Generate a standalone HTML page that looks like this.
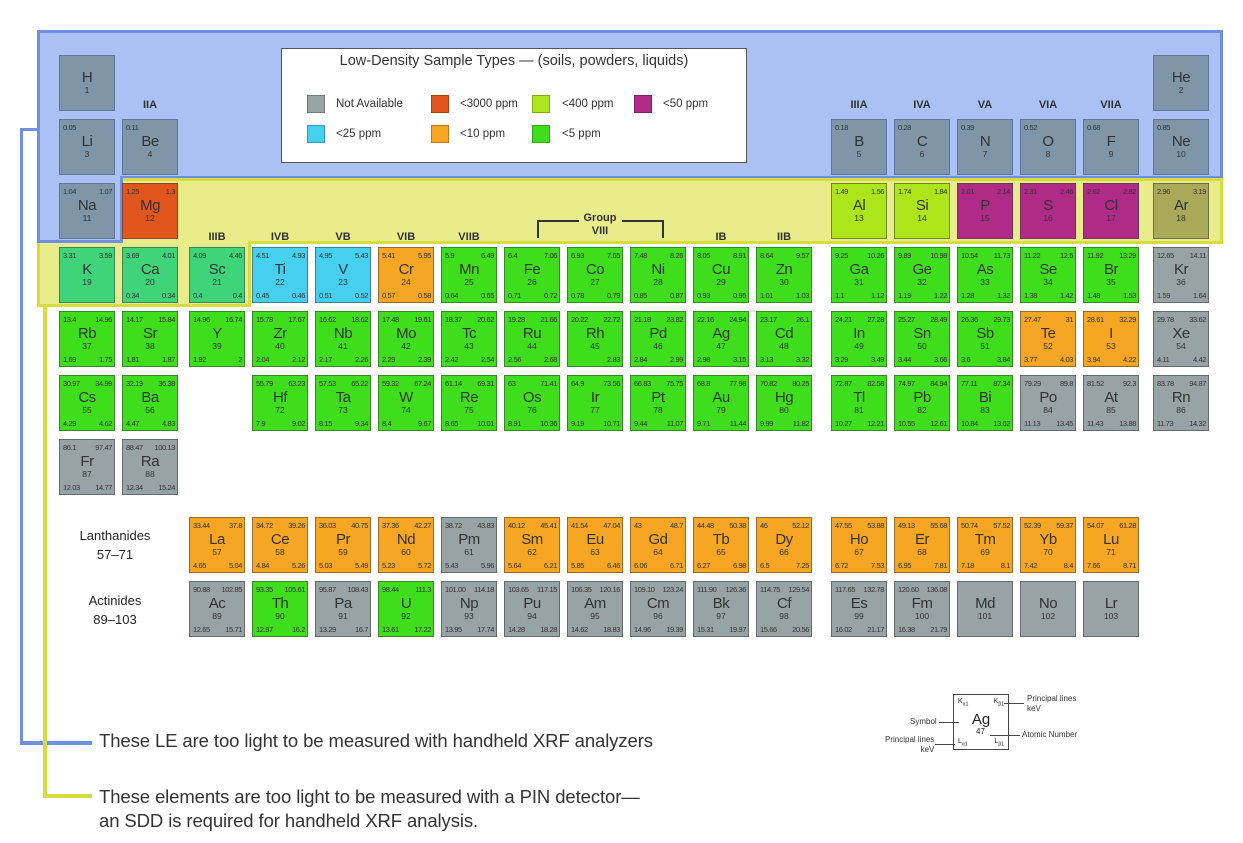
<!DOCTYPE html>
<html><head><meta charset="utf-8"><style>
*{margin:0;padding:0;box-sizing:border-box}
body{width:1243px;height:843px;background:#fff;position:relative;overflow:hidden;font-family:"Liberation Sans Narrow","Liberation Sans",sans-serif;color:#222}
.abs{position:absolute}
.c{position:absolute;width:56px;height:56px;border:1px solid rgba(60,60,60,.55);font-style:normal;text-align:center;color:#333}
.c i,.c b,.c em,.c q{position:absolute;font-size:7.5px;letter-spacing:-0.4px;font-style:normal;font-weight:normal;line-height:9px;color:#333}
.c q::before,.c q::after{content:none}
.c i{left:3px;top:3px}.c b{right:2px;top:3px}
.c em{left:3px;bottom:2px}.c q{right:2px;bottom:2px}
.c s{position:absolute;left:0;right:0;top:14px;font-size:15px;line-height:16px;text-decoration:none;letter-spacing:-0.5px}
.c u{position:absolute;left:0;right:0;top:30px;font-size:8.5px;line-height:9px;text-decoration:none}
.bg{background:#7f95a8;border-color:#5d76a2}
.g{background:#98a3a6}
.gr{background:#3fde1c}
.tg{background:#3fd47a}
.cy{background:#45d0f0}
.or{background:#f6a623}
.rd{background:#e0561c}
.lm{background:#ace519}
.pu{background:#b02a88}
.ol{background:#a9a95a}
.gl{position:absolute;font-size:11px;font-weight:bold;color:#333;width:56px;text-align:center}
.sw{position:absolute;width:18px;height:18px;border:1px solid rgba(0,0,0,.25)}
.lt{position:absolute;font-size:11.5px;color:#333}
</style></head><body>
<div class="abs" style="left:38px;top:31px;width:1184px;height:149px;background:#abc0f4"></div>
<div class="abs" style="left:38px;top:178px;width:84px;height:65px;background:#abc0f4"></div>
<div class="abs" style="left:120px;top:178px;width:1102px;height:65px;background:#e9ec8a"></div>
<div class="abs" style="left:38px;top:242px;width:212px;height:64px;background:#e9ec8a"></div>
<div class="abs" style="left:37px;top:30px;width:1186px;height:3px;background:#6e8fe2"></div>
<div class="abs" style="left:37px;top:30px;width:3px;height:213px;background:#6e8fe2"></div>
<div class="abs" style="left:1220px;top:30px;width:3px;height:150px;background:#6e8fe2"></div>
<div class="abs" style="left:120px;top:176px;width:1103px;height:3px;background:#6e8fe2"></div>
<div class="abs" style="left:120px;top:176px;width:3px;height:66px;background:#6e8fe2"></div>
<div class="abs" style="left:37px;top:240px;width:86px;height:3px;background:#6e8fe2"></div>
<div class="abs" style="left:123px;top:178px;width:1100px;height:3px;background:#d6dc3c"></div>
<div class="abs" style="left:1220px;top:178px;width:3px;height:66px;background:#d6dc3c"></div>
<div class="abs" style="left:248px;top:241px;width:975px;height:3px;background:#d6dc3c"></div>
<div class="abs" style="left:37px;top:243px;width:3px;height:64px;background:#d6dc3c"></div>
<div class="abs" style="left:37px;top:304px;width:214px;height:3px;background:#d6dc3c"></div>
<div class="abs" style="left:248px;top:241px;width:3px;height:66px;background:#d6dc3c"></div>
<div class="abs" style="left:20px;top:128px;width:19px;height:3px;background:#6e8fe2"></div>
<div class="abs" style="left:20px;top:128px;width:3px;height:617px;background:#6e8fe2"></div>
<div class="abs" style="left:20px;top:741px;width:72px;height:4px;background:#6e8fe2"></div>
<div class="abs" style="left:43px;top:305px;width:4px;height:493px;background:#d6dc3c"></div>
<div class="abs" style="left:43px;top:794px;width:49px;height:4px;background:#d6dc3c"></div>
<div class="abs" style="left:99px;top:730px;font-size:18.5px;color:#333;font-family:'Liberation Sans',sans-serif;letter-spacing:-0.1px">These LE are too light to be measured with handheld XRF analyzers</div>
<div class="abs" style="left:99px;top:785px;font-size:18.5px;line-height:24px;color:#333;font-family:'Liberation Sans',sans-serif;letter-spacing:-0.1px">These elements are too light to be measured with a PIN detector—<br>an SDD is required for handheld XRF analysis.</div>

<div class="abs" style="left:281px;top:48px;width:466px;height:115px;background:#fff;border:1px solid #555"></div>
<div class="abs" style="left:281px;top:53px;width:410px;text-align:center;font-size:14.5px;font-family:'Liberation Sans',sans-serif;color:#333;margin-left:28px">Low-Density Sample Types — (soils, powders, liquids)</div>
<div class="sw" style="left:307px;top:95px;background:#98a3a6"></div><div class="lt" style="left:336px;top:98px">Not Available</div>
<div class="sw" style="left:431px;top:95px;background:#e0561c"></div><div class="lt" style="left:460px;top:98px">&lt;3000 ppm</div>
<div class="sw" style="left:532px;top:95px;background:#ace519"></div><div class="lt" style="left:562px;top:98px">&lt;400 ppm</div>
<div class="sw" style="left:634px;top:95px;background:#b02a88"></div><div class="lt" style="left:663px;top:98px">&lt;50 ppm</div>
<div class="sw" style="left:307px;top:125px;background:#45d0f0"></div><div class="lt" style="left:336px;top:128px">&lt;25 ppm</div>
<div class="sw" style="left:431px;top:125px;background:#f6a623"></div><div class="lt" style="left:460px;top:128px">&lt;10 ppm</div>
<div class="sw" style="left:532px;top:125px;background:#3fde1c"></div><div class="lt" style="left:562px;top:128px">&lt;5 ppm</div>

<div class="gl" style="left:122px;top:99px">IIA</div>
<div class="gl" style="left:189px;top:231px">IIIB</div>
<div class="gl" style="left:252px;top:231px">IVB</div>
<div class="gl" style="left:315px;top:231px">VB</div>
<div class="gl" style="left:378px;top:231px">VIB</div>
<div class="gl" style="left:441px;top:231px">VIIB</div>
<div class="gl" style="left:693px;top:231px">IB</div>
<div class="gl" style="left:756px;top:231px">IIB</div>
<div class="gl" style="left:831px;top:99px">IIIA</div>
<div class="gl" style="left:894px;top:99px">IVA</div>
<div class="gl" style="left:957px;top:99px">VA</div>
<div class="gl" style="left:1020px;top:99px">VIA</div>
<div class="gl" style="left:1083px;top:99px">VIIA</div>
<div class="abs" style="left:537px;top:220px;width:42px;height:18px;border-left:2px solid #333;border-top:2px solid #333"></div>
<div class="abs" style="left:622px;top:220px;width:42px;height:18px;border-right:2px solid #333;border-top:2px solid #333"></div>
<div class="abs" style="left:570px;top:212px;width:60px;text-align:center;font-size:11px;font-weight:bold;line-height:13px;color:#333">Group<br>VIII</div>

<div class="abs" style="left:60px;top:526px;width:110px;text-align:center;font-size:13px;line-height:19px;font-family:'Liberation Sans',sans-serif">Lanthanides<br>57–71</div>
<div class="abs" style="left:60px;top:591px;width:110px;text-align:center;font-size:13px;line-height:19px;font-family:'Liberation Sans',sans-serif">Actinides<br>89–103</div>

<div class="c bg" style="left:59px;top:55px"><s>H</s><u>1</u></div>
<div class="c bg" style="left:1153px;top:55px"><s>He</s><u>2</u></div>
<div class="c bg" style="left:59px;top:119px"><i>0.05</i><s>Li</s><u>3</u></div>
<div class="c bg" style="left:122px;top:119px"><i>0.11</i><s>Be</s><u>4</u></div>
<div class="c bg" style="left:831px;top:119px"><i>0.18</i><s>B</s><u>5</u></div>
<div class="c bg" style="left:894px;top:119px"><i>0.28</i><s>C</s><u>6</u></div>
<div class="c bg" style="left:957px;top:119px"><i>0.39</i><s>N</s><u>7</u></div>
<div class="c bg" style="left:1020px;top:119px"><i>0.52</i><s>O</s><u>8</u></div>
<div class="c bg" style="left:1083px;top:119px"><i>0.68</i><s>F</s><u>9</u></div>
<div class="c bg" style="left:1153px;top:119px"><i>0.85</i><s>Ne</s><u>10</u></div>
<div class="c bg" style="left:59px;top:183px"><i>1.04</i><b>1.07</b><s>Na</s><u>11</u></div>
<div class="c rd" style="left:122px;top:183px"><i>1.25</i><b>1.3</b><s>Mg</s><u>12</u></div>
<div class="c lm" style="left:831px;top:183px"><i>1.49</i><b>1.56</b><s>Al</s><u>13</u></div>
<div class="c lm" style="left:894px;top:183px"><i>1.74</i><b>1.84</b><s>Si</s><u>14</u></div>
<div class="c pu" style="left:957px;top:183px"><i>2.01</i><b>2.14</b><s>P</s><u>15</u></div>
<div class="c pu" style="left:1020px;top:183px"><i>2.31</i><b>2.46</b><s>S</s><u>16</u></div>
<div class="c pu" style="left:1083px;top:183px"><i>2.62</i><b>2.82</b><s>Cl</s><u>17</u></div>
<div class="c ol" style="left:1153px;top:183px"><i>2.96</i><b>3.19</b><s>Ar</s><u>18</u></div>

<div class="c tg" style="left:59px;top:247px"><i>3.31</i><b>3.59</b><s>K</s><u>19</u></div>
<div class="c tg" style="left:122px;top:247px"><i>3.69</i><b>4.01</b><s>Ca</s><u>20</u><em>0.34</em><q>0.34</q></div>
<div class="c tg" style="left:189px;top:247px"><i>4.09</i><b>4.46</b><s>Sc</s><u>21</u><em>0.4</em><q>0.4</q></div>
<div class="c cy" style="left:252px;top:247px"><i>4.51</i><b>4.93</b><s>Ti</s><u>22</u><em>0.45</em><q>0.46</q></div>
<div class="c cy" style="left:315px;top:247px"><i>4.95</i><b>5.43</b><s>V</s><u>23</u><em>0.51</em><q>0.52</q></div>
<div class="c or" style="left:378px;top:247px"><i>5.41</i><b>5.95</b><s>Cr</s><u>24</u><em>0.57</em><q>0.58</q></div>
<div class="c gr" style="left:441px;top:247px"><i>5.9</i><b>6.49</b><s>Mn</s><u>25</u><em>0.64</em><q>0.65</q></div>
<div class="c gr" style="left:504px;top:247px"><i>6.4</i><b>7.06</b><s>Fe</s><u>26</u><em>0.71</em><q>0.72</q></div>
<div class="c gr" style="left:567px;top:247px"><i>6.93</i><b>7.65</b><s>Co</s><u>27</u><em>0.78</em><q>0.79</q></div>
<div class="c gr" style="left:630px;top:247px"><i>7.48</i><b>8.26</b><s>Ni</s><u>28</u><em>0.85</em><q>0.87</q></div>
<div class="c gr" style="left:693px;top:247px"><i>8.05</i><b>8.91</b><s>Cu</s><u>29</u><em>0.93</em><q>0.95</q></div>
<div class="c gr" style="left:756px;top:247px"><i>8.64</i><b>9.57</b><s>Zn</s><u>30</u><em>1.01</em><q>1.03</q></div>
<div class="c gr" style="left:831px;top:247px"><i>9.25</i><b>10.26</b><s>Ga</s><u>31</u><em>1.1</em><q>1.12</q></div>
<div class="c gr" style="left:894px;top:247px"><i>9.89</i><b>10.98</b><s>Ge</s><u>32</u><em>1.19</em><q>1.22</q></div>
<div class="c gr" style="left:957px;top:247px"><i>10.54</i><b>11.73</b><s>As</s><u>33</u><em>1.28</em><q>1.32</q></div>
<div class="c gr" style="left:1020px;top:247px"><i>11.22</i><b>12.5</b><s>Se</s><u>34</u><em>1.38</em><q>1.42</q></div>
<div class="c gr" style="left:1083px;top:247px"><i>11.92</i><b>13.29</b><s>Br</s><u>35</u><em>1.48</em><q>1.53</q></div>
<div class="c g" style="left:1153px;top:247px"><i>12.65</i><b>14.11</b><s>Kr</s><u>36</u><em>1.59</em><q>1.64</q></div>

<div class="c gr" style="left:59px;top:311px"><i>13.4</i><b>14.96</b><s>Rb</s><u>37</u><em>1.69</em><q>1.75</q></div>
<div class="c gr" style="left:122px;top:311px"><i>14.17</i><b>15.84</b><s>Sr</s><u>38</u><em>1.81</em><q>1.87</q></div>
<div class="c gr" style="left:189px;top:311px"><i>14.96</i><b>16.74</b><s>Y</s><u>39</u><em>1.92</em><q>2</q></div>
<div class="c gr" style="left:252px;top:311px"><i>15.78</i><b>17.67</b><s>Zr</s><u>40</u><em>2.04</em><q>2.12</q></div>
<div class="c gr" style="left:315px;top:311px"><i>16.62</i><b>18.62</b><s>Nb</s><u>41</u><em>2.17</em><q>2.26</q></div>
<div class="c gr" style="left:378px;top:311px"><i>17.48</i><b>19.61</b><s>Mo</s><u>42</u><em>2.29</em><q>2.39</q></div>
<div class="c gr" style="left:441px;top:311px"><i>18.37</i><b>20.62</b><s>Tc</s><u>43</u><em>2.42</em><q>2.54</q></div>
<div class="c gr" style="left:504px;top:311px"><i>19.28</i><b>21.66</b><s>Ru</s><u>44</u><em>2.56</em><q>2.68</q></div>
<div class="c gr" style="left:567px;top:311px"><i>20.22</i><b>22.72</b><s>Rh</s><u>45</u><q>2.83</q></div>
<div class="c gr" style="left:630px;top:311px"><i>21.18</i><b>23.82</b><s>Pd</s><u>46</u><em>2.84</em><q>2.99</q></div>
<div class="c gr" style="left:693px;top:311px"><i>22.16</i><b>24.94</b><s>Ag</s><u>47</u><em>2.98</em><q>3.15</q></div>
<div class="c gr" style="left:756px;top:311px"><i>23.17</i><b>26.1</b><s>Cd</s><u>48</u><em>3.13</em><q>3.32</q></div>
<div class="c gr" style="left:831px;top:311px"><i>24.21</i><b>27.28</b><s>In</s><u>49</u><em>3.29</em><q>3.49</q></div>
<div class="c gr" style="left:894px;top:311px"><i>25.27</i><b>28.49</b><s>Sn</s><u>50</u><em>3.44</em><q>3.66</q></div>
<div class="c gr" style="left:957px;top:311px"><i>26.36</i><b>29.73</b><s>Sb</s><u>51</u><em>3.6</em><q>3.84</q></div>
<div class="c or" style="left:1020px;top:311px"><i>27.47</i><b>31</b><s>Te</s><u>52</u><em>3.77</em><q>4.03</q></div>
<div class="c or" style="left:1083px;top:311px"><i>28.61</i><b>32.29</b><s>I</s><u>53</u><em>3.94</em><q>4.22</q></div>
<div class="c g" style="left:1153px;top:311px"><i>29.78</i><b>33.62</b><s>Xe</s><u>54</u><em>4.11</em><q>4.42</q></div>

<div class="c gr" style="left:59px;top:375px"><i>30.97</i><b>34.99</b><s>Cs</s><u>55</u><em>4.29</em><q>4.62</q></div>
<div class="c gr" style="left:122px;top:375px"><i>32.19</i><b>36.38</b><s>Ba</s><u>56</u><em>4.47</em><q>4.83</q></div>
<div class="c gr" style="left:252px;top:375px"><i>55.79</i><b>63.23</b><s>Hf</s><u>72</u><em>7.9</em><q>9.02</q></div>
<div class="c gr" style="left:315px;top:375px"><i>57.53</i><b>65.22</b><s>Ta</s><u>73</u><em>8.15</em><q>9.34</q></div>
<div class="c gr" style="left:378px;top:375px"><i>59.32</i><b>67.24</b><s>W</s><u>74</u><em>8.4</em><q>9.67</q></div>
<div class="c gr" style="left:441px;top:375px"><i>61.14</i><b>69.31</b><s>Re</s><u>75</u><em>8.65</em><q>10.01</q></div>
<div class="c gr" style="left:504px;top:375px"><i>63</i><b>71.41</b><s>Os</s><u>76</u><em>8.91</em><q>10.36</q></div>
<div class="c gr" style="left:567px;top:375px"><i>64.9</i><b>73.56</b><s>Ir</s><u>77</u><em>9.19</em><q>10.71</q></div>
<div class="c gr" style="left:630px;top:375px"><i>66.83</i><b>75.75</b><s>Pt</s><u>78</u><em>9.44</em><q>11.07</q></div>
<div class="c gr" style="left:693px;top:375px"><i>68.8</i><b>77.98</b><s>Au</s><u>79</u><em>9.71</em><q>11.44</q></div>
<div class="c gr" style="left:756px;top:375px"><i>70.82</i><b>80.25</b><s>Hg</s><u>80</u><em>9.99</em><q>11.82</q></div>
<div class="c gr" style="left:831px;top:375px"><i>72.87</i><b>82.58</b><s>Tl</s><u>81</u><em>10.27</em><q>12.21</q></div>
<div class="c gr" style="left:894px;top:375px"><i>74.97</i><b>84.94</b><s>Pb</s><u>82</u><em>10.55</em><q>12.61</q></div>
<div class="c gr" style="left:957px;top:375px"><i>77.11</i><b>87.34</b><s>Bi</s><u>83</u><em>10.84</em><q>13.02</q></div>
<div class="c g" style="left:1020px;top:375px"><i>79.29</i><b>89.8</b><s>Po</s><u>84</u><em>11.13</em><q>13.45</q></div>
<div class="c g" style="left:1083px;top:375px"><i>81.52</i><b>92.3</b><s>At</s><u>85</u><em>11.43</em><q>13.88</q></div>
<div class="c g" style="left:1153px;top:375px"><i>83.78</i><b>94.87</b><s>Rn</s><u>86</u><em>11.73</em><q>14.32</q></div>

<div class="c g" style="left:59px;top:439px"><i>86.1</i><b>97.47</b><s>Fr</s><u>87</u><em>12.03</em><q>14.77</q></div>
<div class="c g" style="left:122px;top:439px"><i>88.47</i><b>100.13</b><s>Ra</s><u>88</u><em>12.34</em><q>15.24</q></div>

<div class="c or" style="left:189px;top:517px"><i>33.44</i><b>37.8</b><s>La</s><u>57</u><em>4.65</em><q>5.04</q></div>
<div class="c or" style="left:252px;top:517px"><i>34.72</i><b>39.26</b><s>Ce</s><u>58</u><em>4.84</em><q>5.26</q></div>
<div class="c or" style="left:315px;top:517px"><i>36.03</i><b>40.75</b><s>Pr</s><u>59</u><em>5.03</em><q>5.49</q></div>
<div class="c or" style="left:378px;top:517px"><i>37.36</i><b>42.27</b><s>Nd</s><u>60</u><em>5.23</em><q>5.72</q></div>
<div class="c g" style="left:441px;top:517px"><i>38.72</i><b>43.83</b><s>Pm</s><u>61</u><em>5.43</em><q>5.96</q></div>
<div class="c or" style="left:504px;top:517px"><i>40.12</i><b>45.41</b><s>Sm</s><u>62</u><em>5.64</em><q>6.21</q></div>
<div class="c or" style="left:567px;top:517px"><i>41.54</i><b>47.04</b><s>Eu</s><u>63</u><em>5.85</em><q>6.46</q></div>
<div class="c or" style="left:630px;top:517px"><i>43</i><b>48.7</b><s>Gd</s><u>64</u><em>6.06</em><q>6.71</q></div>
<div class="c or" style="left:693px;top:517px"><i>44.48</i><b>50.38</b><s>Tb</s><u>65</u><em>6.27</em><q>6.98</q></div>
<div class="c or" style="left:756px;top:517px"><i>46</i><b>52.12</b><s>Dy</s><u>66</u><em>6.5</em><q>7.25</q></div>
<div class="c or" style="left:831px;top:517px"><i>47.55</i><b>53.88</b><s>Ho</s><u>67</u><em>6.72</em><q>7.53</q></div>
<div class="c or" style="left:894px;top:517px"><i>49.13</i><b>55.68</b><s>Er</s><u>68</u><em>6.95</em><q>7.81</q></div>
<div class="c or" style="left:957px;top:517px"><i>50.74</i><b>57.52</b><s>Tm</s><u>69</u><em>7.18</em><q>8.1</q></div>
<div class="c or" style="left:1020px;top:517px"><i>52.39</i><b>59.37</b><s>Yb</s><u>70</u><em>7.42</em><q>8.4</q></div>
<div class="c or" style="left:1083px;top:517px"><i>54.07</i><b>61.28</b><s>Lu</s><u>71</u><em>7.66</em><q>8.71</q></div>

<div class="c g" style="left:189px;top:581px"><i>90.88</i><b>102.85</b><s>Ac</s><u>89</u><em>12.65</em><q>15.71</q></div>
<div class="c gr" style="left:252px;top:581px"><i>93.35</i><b>105.61</b><s>Th</s><u>90</u><em>12.97</em><q>16.2</q></div>
<div class="c g" style="left:315px;top:581px"><i>95.87</i><b>108.43</b><s>Pa</s><u>91</u><em>13.29</em><q>16.7</q></div>
<div class="c gr" style="left:378px;top:581px"><i>98.44</i><b>111.3</b><s>U</s><u>92</u><em>13.61</em><q>17.22</q></div>
<div class="c g" style="left:441px;top:581px"><i>101.00</i><b>114.18</b><s>Np</s><u>93</u><em>13.95</em><q>17.74</q></div>
<div class="c g" style="left:504px;top:581px"><i>103.65</i><b>117.15</b><s>Pu</s><u>94</u><em>14.28</em><q>18.28</q></div>
<div class="c g" style="left:567px;top:581px"><i>106.35</i><b>120.16</b><s>Am</s><u>95</u><em>14.62</em><q>18.83</q></div>
<div class="c g" style="left:630px;top:581px"><i>109.10</i><b>123.24</b><s>Cm</s><u>96</u><em>14.96</em><q>19.39</q></div>
<div class="c g" style="left:693px;top:581px"><i>111.90</i><b>126.36</b><s>Bk</s><u>97</u><em>15.31</em><q>19.97</q></div>
<div class="c g" style="left:756px;top:581px"><i>114.75</i><b>129.54</b><s>Cf</s><u>98</u><em>15.66</em><q>20.56</q></div>
<div class="c g" style="left:831px;top:581px"><i>117.65</i><b>132.78</b><s>Es</s><u>99</u><em>16.02</em><q>21.17</q></div>
<div class="c g" style="left:894px;top:581px"><i>120.60</i><b>136.08</b><s>Fm</s><u>100</u><em>16.38</em><q>21.79</q></div>
<div class="c g" style="left:957px;top:581px"><s>Md</s><u>101</u></div>
<div class="c g" style="left:1020px;top:581px"><s>No</s><u>102</u></div>
<div class="c g" style="left:1083px;top:581px"><s>Lr</s><u>103</u></div>

<div class="abs" style="left:953px;top:694px;width:56px;height:56px;border:1px solid #444;background:#fff;font-family:'Liberation Sans',sans-serif">
<span class="abs" style="left:4px;top:3px;font-size:7px">K<sub style="font-size:5px">α1</sub></span>
<span class="abs" style="right:4px;top:3px;font-size:7px">K<sub style="font-size:5px">β1</sub></span>
<span class="abs" style="left:0;right:0;top:16px;text-align:center;font-size:15px">Ag</span>
<span class="abs" style="left:22px;top:32px;font-size:8px">47</span>
<span class="abs" style="left:4px;bottom:2px;font-size:7px">L<sub style="font-size:5px">α1</sub></span>
<span class="abs" style="right:4px;bottom:2px;font-size:7px">L<sub style="font-size:5px">β1</sub></span>
</div>
<div class="abs" style="left:939px;top:722px;width:20px;height:1px;background:#444"></div>
<div class="abs" style="left:935px;top:744px;width:20px;height:1px;background:#444"></div>
<div class="abs" style="left:1004px;top:703px;width:20px;height:1px;background:#444"></div>
<div class="abs" style="left:990px;top:735px;width:30px;height:1px;background:#444"></div>
<div class="abs" style="left:910px;top:717px;font-size:8px;color:#333">Symbol</div>
<div class="abs" style="left:885px;top:735px;font-size:8px;line-height:10px;text-align:right;color:#333">Principal lines<br>keV</div>
<div class="abs" style="left:1027px;top:694px;font-size:8px;line-height:10px;color:#333">Principal lines<br>keV</div>
<div class="abs" style="left:1022px;top:730px;font-size:8px;color:#333">Atomic Number</div>
</body></html>
